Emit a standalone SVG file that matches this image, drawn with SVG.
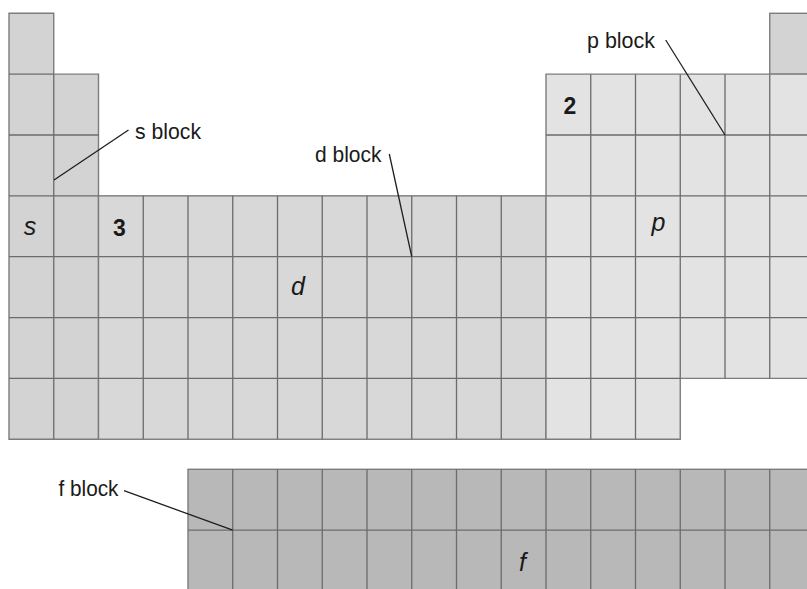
<svg xmlns="http://www.w3.org/2000/svg" width="807" height="589" viewBox="0 0 807 589">
  <style>
    .grid { fill: none; stroke: #6c6c6c; stroke-width: 1.3; }
    .edge { stroke: #7c7c7c; stroke-width: 1.4; }
    .sf { fill: #d3d3d3; }
    .df { fill: #d8d8d8; }
    .pf { fill: #e3e3e3; }
    .ff { fill: #b8b8b8; }
    .lead { fill: none; stroke: #1e1e1e; stroke-width: 1.3; }
    .lbl { font-family: "Liberation Sans", Arial, sans-serif; font-size: 22.5px; fill: #1a1a1a; }
    .sym { font-family: "Liberation Sans", Arial, sans-serif; font-size: 25px; font-style: italic; fill: #1a1a1a; text-anchor: middle; }
    .num { font-family: "Liberation Sans", Arial, sans-serif; font-size: 23px; font-weight: bold; fill: #1a1a1a; text-anchor: middle; }
  </style>
  <rect width="807" height="589" fill="#ffffff"/>

  <g id="s-block">
    <path class="sf edge" d="M9,13.3 H53.75 V74.15 H98.5 V439.25 H9 Z"/>
    <rect class="sf edge" x="769.75" y="13.3" width="44.75" height="60.85"/>
    <path class="grid" d="M53.75,74.15 V439.25 M9,74.15 H53.75 M9,135 H98.5 M9,195.85 H98.5 M9,256.7 H98.5 M9,317.55 H98.5 M9,378.4 H98.5"/>
    <text class="sym" x="30" y="235">s</text>
  </g>

  <g id="d-block">
    <rect class="df edge" x="98.5" y="195.85" width="447.5" height="243.4"/>
    <path class="grid" d="M143.25,195.85 V439.25 M188,195.85 V439.25 M232.75,195.85 V439.25 M277.5,195.85 V439.25 M322.25,195.85 V439.25 M367,195.85 V439.25 M411.75,195.85 V439.25 M456.5,195.85 V439.25 M501.25,195.85 V439.25 M98.5,256.7 H546 M98.5,317.55 H546 M98.5,378.4 H546"/>
    <text class="num" x="119.5" y="235.5">3</text>
    <text class="sym" x="298" y="295">d</text>
  </g>

  <g id="p-block">
    <path class="pf edge" d="M546,74.15 H814.5 V378.4 H680.25 V439.25 H546 Z"/>
    <path class="grid" d="M590.75,74.15 V439.25 M635.5,74.15 V439.25 M680.25,74.15 V378.4 M725,74.15 V378.4 M769.75,74.15 V378.4 M546,135 H814.5 M546,195.85 H814.5 M546,256.7 H814.5 M546,317.55 H814.5 M546,378.4 H680.25"/>
    <text class="num" x="570" y="114">2</text>
    <text class="sym" x="658.5" y="231">p</text>
  </g>

  <g id="f-block">
    <rect class="ff edge" x="188" y="469.3" width="626.5" height="122"/>
    <path class="grid" d="M232.75,469.3 V591 M277.5,469.3 V591 M322.25,469.3 V591 M367,469.3 V591 M411.75,469.3 V591 M456.5,469.3 V591 M501.25,469.3 V591 M546,469.3 V591 M590.75,469.3 V591 M635.5,469.3 V591 M680.25,469.3 V591 M725,469.3 V591 M769.75,469.3 V591 M188,530.15 H814.5"/>
    <text class="sym" x="522.5" y="571">f</text>
  </g>

  <g id="labels">
    <text id="s-block-label" class="lbl" x="135" y="138.5" textLength="66" lengthAdjust="spacingAndGlyphs">s block</text>
    <text id="d-block-label" class="lbl" x="315" y="162" textLength="66.5" lengthAdjust="spacingAndGlyphs">d block</text>
    <text id="p-block-label" class="lbl" x="587" y="48" textLength="68" lengthAdjust="spacingAndGlyphs">p block</text>
    <text id="f-block-label" class="lbl" x="58.5" y="496" textLength="60" lengthAdjust="spacingAndGlyphs">f block</text>
  </g>

  <g id="connectors">
    <line class="lead" x1="128.5" y1="130" x2="54" y2="180"/>
    <line class="lead" x1="389.3" y1="154" x2="411.75" y2="256.7"/>
    <line class="lead" x1="665.7" y1="40" x2="725" y2="135"/>
    <line class="lead" x1="124" y1="490.7" x2="232.75" y2="530.15"/>
  </g>
</svg>
